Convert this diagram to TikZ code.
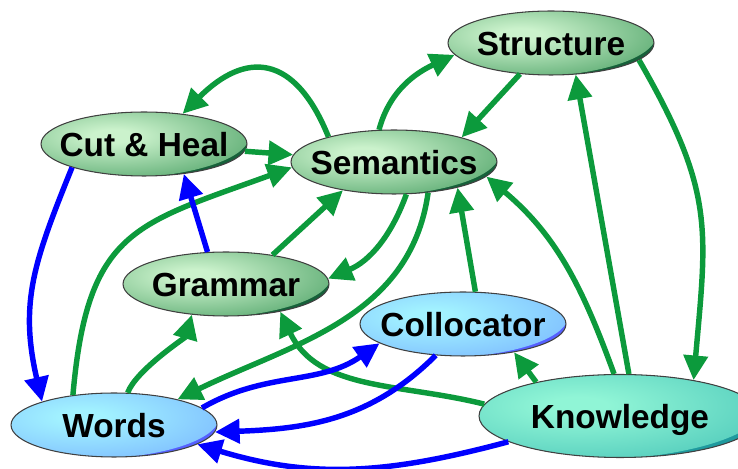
\documentclass[tikz,border=0pt]{standalone}
\usepackage{fontspec}
\setmainfont{Liberation Sans}
\usepackage{xcolor}
\definecolor{GreenHi}{HTML}{CBF2CC}
\definecolor{GreenMid}{HTML}{6DB680}
\definecolor{GreenLo}{HTML}{16613A}
\definecolor{BlueHi}{HTML}{A2F2FF}
\definecolor{BlueMid}{HTML}{84C6FF}
\definecolor{BlueLo}{HTML}{5560FF}
\definecolor{TealHi}{HTML}{90F5D6}
\definecolor{TealMid}{HTML}{5CD2C0}
\definecolor{TealLo}{HTML}{1F9A9E}
\definecolor{FlowGreen}{HTML}{0C9A3C}
\definecolor{LinkBlue}{HTML}{0000FF}
\usepackage{tikz}
\usetikzlibrary{arrows.meta,shapes.geometric,calc}
\pgfdeclareradialshading{greenglow}{\pgfpointorigin}{color(0bp)=(GreenHi); color(4bp)=(GreenHi); color(25bp)=(GreenMid); color(50bp)=(GreenLo)}
\pgfdeclareradialshading{blueglow}{\pgfpointorigin}{color(0bp)=(BlueHi); color(4bp)=(BlueHi); color(25bp)=(BlueMid); color(50bp)=(BlueLo)}
\pgfdeclareradialshading{tealglow}{\pgfpointorigin}{color(0bp)=(TealHi); color(4bp)=(TealHi); color(25bp)=(TealMid); color(50bp)=(TealLo)}
\newcommand{\ctext}[1]{\makebox[0pt]{#1}}

\begin{document}
\begin{tikzpicture}[
  x=0.02cm, y=-0.02cm,
  >={Triangle[length=14pt,width=13.5pt]},
  topic/.style={ellipse,draw=black!75,line width=0.6pt,inner sep=0pt,minimum width=4.12cm,minimum height=1.28cm,
    font=\bfseries\fontsize{19}{22}\selectfont,text height=13.7pt,text depth=0pt},
  glow/.style={path picture={
    \shade[shading=#1] let \p1=(path picture bounding box.north east), \p2=(path picture bounding box.center) in
      ([shift={({-0.3*(\x1-\x2)},{0.25*(\y1-\y2)})}]\p2) ellipse [x radius={1.32*(\x1-\x2)}, y radius={1.32*(\y1-\y2)}];}},
  green/.style={topic,fill=GreenLo,glow=greenglow},
  blue/.style={topic,fill=BlueLo,glow=blueglow},
  teal/.style={topic,fill=TealLo,glow=tealglow,minimum width=5.64cm,minimum height=1.66cm},
  flow/.style={->,draw=FlowGreen,line width=3.1pt},
  link/.style={->,draw=LinkBlue,line width=3.1pt}
]
\clip (0,0) rectangle (738,469);

\node[green] (str) at (551,43) {\ctext{Structure}};
\node[green] (cut) at (144,144) {\ctext{Cut \& Heal}};
\node[green] (sem) at (394,162) {\ctext{Semantics}};
\node[green] (gra) at (226,284) {\ctext{Grammar}};
\node[blue] (col) at (463,324) {\ctext{Collocator}};
\node[teal] (kno) at (620,416) {\ctext{Knowledge}};
\node[blue] (wor) at (114,425) {\ctext{Words}};

% green connectors
\draw[flow] (sem.159) to[out=112,in=45,looseness=1.55] (cut.38);
\draw[flow] (cut) -- (sem);
\draw[flow] (sem.115) to[out=75,in=205] (str.187);
\draw[flow] (str.225) -- (sem.20);
\draw[flow] (kno.78) -- (str.-52);
\draw[flow] (str.-11) to[out=-60,in=85,looseness=1.2] (kno.26);
\draw[flow] (kno.98) to[out=110,in=-40] (sem.-9);
\draw[flow] (col.69) -- (sem.-22);
\draw[flow] (kno.158) -- (col.-29);
\draw[flow] (kno.175) to[out=166,in=-65] (gra.-27);
\draw[flow] (sem.-69) to[out=250,in=23] (gra.3);
\draw[flow] (sem.-42) to[out=262,in=26] (wor.22);
\draw[flow] (wor.144) to[out=85,in=200,looseness=1.35] (sem.183);
\draw[flow] (wor.67) to[out=70,in=254,looseness=0.6] (gra.222);
\draw[flow] (gra.32) -- (sem.209);

% blue connectors
\draw[link] (cut.198) to[out=248,in=103,looseness=1.1] (wor.162);
\draw[link] (gra.120) -- (cut.-37);
\draw[link] (wor.11) to[out=30,in=215] (col.193);
\draw[link] (col.229) to[out=225,in=2] (wor.-4);
\draw[link] (kno.193) to[out=195,in=-17] (wor.-13);
\end{tikzpicture}
\end{document}
